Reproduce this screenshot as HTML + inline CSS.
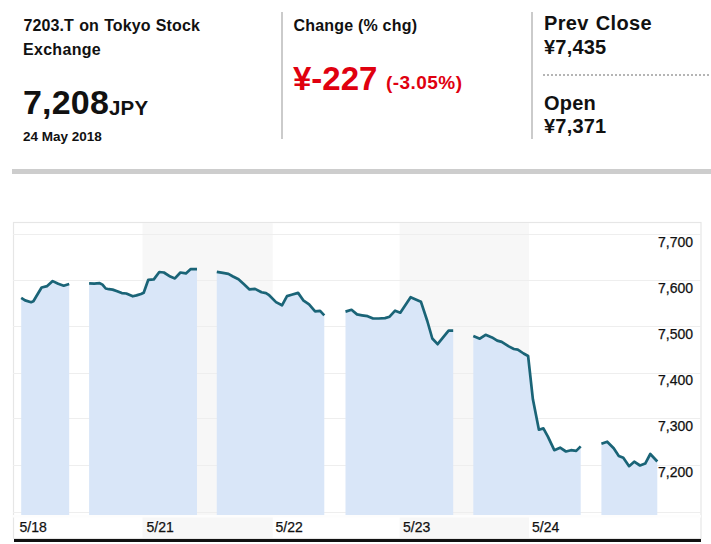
<!DOCTYPE html>
<html><head><meta charset="utf-8"><style>
html,body{margin:0;padding:0;background:#fff;width:711px;height:544px;overflow:hidden;position:relative;font-family:"Liberation Sans",sans-serif;color:#111;}
.t{position:absolute;white-space:nowrap;font-weight:bold;line-height:1;}
.vl{position:absolute;width:2px;background:#cbcbcb;}
.r{color:#e0000f}
</style></head><body>
<div class="t" style="left:23.5px;top:18.2px;font-size:16px;letter-spacing:0.1px;word-spacing:0.7px">7203.T on Tokyo Stock</div>
<div class="t" style="left:23px;top:41.9px;font-size:16px;letter-spacing:0.3px">Exchange</div>
<div class="t" style="left:23px;top:85px;font-size:34px;letter-spacing:0.2px">7,208</div>
<div class="t" style="left:109px;top:97.5px;font-size:20.5px;letter-spacing:0.2px">JPY</div>
<div class="t" style="left:23px;top:130.3px;font-size:13.5px;letter-spacing:0px">24 May 2018</div>
<div class="vl" style="left:281px;top:12px;height:127px"></div>
<div class="t" style="left:293.5px;top:18px;font-size:16px;letter-spacing:0.2px">Change (% chg)</div>
<div class="t r" style="left:293px;top:62px;font-size:33px;letter-spacing:0px">¥-227</div>
<div class="t r" style="left:386px;top:73px;font-size:19px;letter-spacing:0.45px">(-3.05%)</div>
<div class="vl" style="left:531px;top:12px;height:127px"></div>
<div class="t" style="left:544px;top:13px;font-size:20px;letter-spacing:0.35px;word-spacing:1px">Prev Close</div>
<div class="t" style="left:544px;top:37px;font-size:20px;letter-spacing:0.2px">¥7,435</div>
<div style="position:absolute;left:542.5px;top:74px;width:169px;height:2px;background:repeating-linear-gradient(90deg,#b5b5b5 0 2px,transparent 2px 4px)"></div>
<div class="t" style="left:544px;top:93px;font-size:20px;letter-spacing:0.2px">Open</div>
<div class="t" style="left:544px;top:116px;font-size:20px;letter-spacing:0.2px">¥7,371</div>
<div style="position:absolute;left:12px;top:169px;width:699px;height:5px;background:#cdcdcd"></div>
<svg style="position:absolute;left:0;top:0" width="711" height="544" viewBox="0 0 711 544">
<rect x="13.5" y="222.5" width="687.5" height="316" fill="#fff" stroke="#e6e6e6" stroke-width="1.2"/>
<rect x="142.5" y="223" width="130.2" height="315" fill="#f7f7f7"/>
<rect x="399.6" y="223" width="129.3" height="315" fill="#f7f7f7"/>
<line x1="13" y1="234.5" x2="701" y2="234.5" stroke="#eeeeee" stroke-width="1"/><line x1="13" y1="280.5" x2="701" y2="280.5" stroke="#eeeeee" stroke-width="1"/><line x1="13" y1="326.5" x2="701" y2="326.5" stroke="#eeeeee" stroke-width="1"/><line x1="13" y1="373.5" x2="701" y2="373.5" stroke="#eeeeee" stroke-width="1"/><line x1="13" y1="418.5" x2="701" y2="418.5" stroke="#eeeeee" stroke-width="1"/><line x1="13" y1="465.5" x2="701" y2="465.5" stroke="#eeeeee" stroke-width="1"/><line x1="13" y1="512.5" x2="701" y2="512.5" stroke="#eeeeee" stroke-width="1"/>
<rect x="13" y="515" width="688" height="2.5" fill="#fdfdfd"/>
<polygon points="21.2,515 21.2,297.9 25.1,300.4 31.1,302.2 33.4,301.3 38.0,293.5 41.6,287.5 47.2,286.1 52.7,281.1 58.2,283.8 63.7,285.7 69.2,284.0 69.2,515" fill="#d9e6f8"/><polygon points="89.1,515 89.1,283.4 94.2,283.7 99.7,283.2 102.5,284.6 105.7,288.5 108.9,289.2 112.6,289.6 117.2,291.2 121.8,293.1 126.3,293.5 132.8,296.3 136.5,295.4 141.0,294.0 143.7,292.7 148.3,279.8 153.8,279.4 159.3,272.0 163.9,272.5 170.3,276.6 174.9,278.4 180.4,272.5 185.9,273.4 190.5,269.2 197.0,269.2 197.0,515" fill="#d9e6f8"/><polygon points="216.8,515 216.8,271.8 222.9,272.9 228.4,273.8 233.0,276.5 238.5,279.3 244.0,284.3 249.5,289.4 255.0,288.9 261.5,292.2 266.0,293.1 268.7,294.8 276.0,302.1 282.0,305.3 287.0,296.1 291.6,294.8 298.1,292.9 303.6,300.7 309.1,304.4 315.1,311.3 320.1,310.8 324.3,315.3 324.3,515" fill="#d9e6f8"/><polygon points="345.5,515 345.5,311.6 351.5,309.8 357.0,314.4 362.0,315.3 367.6,316.2 373.1,318.5 378.6,318.5 385.0,318.1 389.6,316.7 395.1,310.7 400.3,312.7 410.6,297.2 420.9,301.7 427.3,321.0 432.3,338.5 437.6,344.2 448.6,330.7 453.2,330.7 453.2,515" fill="#d9e6f8"/><polygon points="473.3,515 473.3,335.9 479.8,338.7 485.6,334.8 492.0,337.4 497.2,340.6 501.7,341.9 508.8,346.4 513.9,349.0 517.8,349.6 523.6,353.5 528.1,356.0 532.9,399.3 538.9,429.7 543.4,428.4 547.9,436.7 554.3,450.2 560.1,447.7 565.9,451.5 571.0,450.2 576.2,450.9 580.7,446.4 580.7,515" fill="#d9e6f8"/><polygon points="601.4,515 601.4,443.7 607.2,441.7 613.7,448.2 618.8,455.9 623.3,457.8 629.1,466.2 634.2,461.7 640.0,465.5 645.2,463.6 650.3,454.0 657.3,461.5 657.3,515" fill="#d9e6f8"/>
<polyline points="21.2,297.9 25.1,300.4 31.1,302.2 33.4,301.3 38.0,293.5 41.6,287.5 47.2,286.1 52.7,281.1 58.2,283.8 63.7,285.7 69.2,284.0" fill="none" stroke="#1a6477" stroke-width="2.7" stroke-linejoin="round" stroke-linecap="butt"/><polyline points="89.1,283.4 94.2,283.7 99.7,283.2 102.5,284.6 105.7,288.5 108.9,289.2 112.6,289.6 117.2,291.2 121.8,293.1 126.3,293.5 132.8,296.3 136.5,295.4 141.0,294.0 143.7,292.7 148.3,279.8 153.8,279.4 159.3,272.0 163.9,272.5 170.3,276.6 174.9,278.4 180.4,272.5 185.9,273.4 190.5,269.2 197.0,269.2" fill="none" stroke="#1a6477" stroke-width="2.7" stroke-linejoin="round" stroke-linecap="butt"/><polyline points="216.8,271.8 222.9,272.9 228.4,273.8 233.0,276.5 238.5,279.3 244.0,284.3 249.5,289.4 255.0,288.9 261.5,292.2 266.0,293.1 268.7,294.8 276.0,302.1 282.0,305.3 287.0,296.1 291.6,294.8 298.1,292.9 303.6,300.7 309.1,304.4 315.1,311.3 320.1,310.8 324.3,315.3" fill="none" stroke="#1a6477" stroke-width="2.7" stroke-linejoin="round" stroke-linecap="butt"/><polyline points="345.5,311.6 351.5,309.8 357.0,314.4 362.0,315.3 367.6,316.2 373.1,318.5 378.6,318.5 385.0,318.1 389.6,316.7 395.1,310.7 400.3,312.7 410.6,297.2 420.9,301.7 427.3,321.0 432.3,338.5 437.6,344.2 448.6,330.7 453.2,330.7" fill="none" stroke="#1a6477" stroke-width="2.7" stroke-linejoin="round" stroke-linecap="butt"/><polyline points="473.3,335.9 479.8,338.7 485.6,334.8 492.0,337.4 497.2,340.6 501.7,341.9 508.8,346.4 513.9,349.0 517.8,349.6 523.6,353.5 528.1,356.0 532.9,399.3 538.9,429.7 543.4,428.4 547.9,436.7 554.3,450.2 560.1,447.7 565.9,451.5 571.0,450.2 576.2,450.9 580.7,446.4" fill="none" stroke="#1a6477" stroke-width="2.7" stroke-linejoin="round" stroke-linecap="butt"/><polyline points="601.4,443.7 607.2,441.7 613.7,448.2 618.8,455.9 623.3,457.8 629.1,466.2 634.2,461.7 640.0,465.5 645.2,463.6 650.3,454.0 657.3,461.5" fill="none" stroke="#1a6477" stroke-width="2.7" stroke-linejoin="round" stroke-linecap="butt"/>
<g font-family="Liberation Sans" font-size="14" fill="#111" stroke="#111" stroke-width="0.25"><text x="693" y="247" text-anchor="end">7,700</text><text x="693" y="293" text-anchor="end">7,600</text><text x="693" y="339" text-anchor="end">7,500</text><text x="693" y="385" text-anchor="end">7,400</text><text x="693" y="431" text-anchor="end">7,300</text><text x="693" y="477" text-anchor="end">7,200</text><text x="19.5" y="532">5/18</text><text x="146.5" y="532">5/21</text><text x="275.5" y="532">5/22</text><text x="403" y="532">5/23</text><text x="532" y="532">5/24</text></g>
<rect x="14" y="539" width="687" height="3" fill="#111"/>
</svg>
</body></html>
